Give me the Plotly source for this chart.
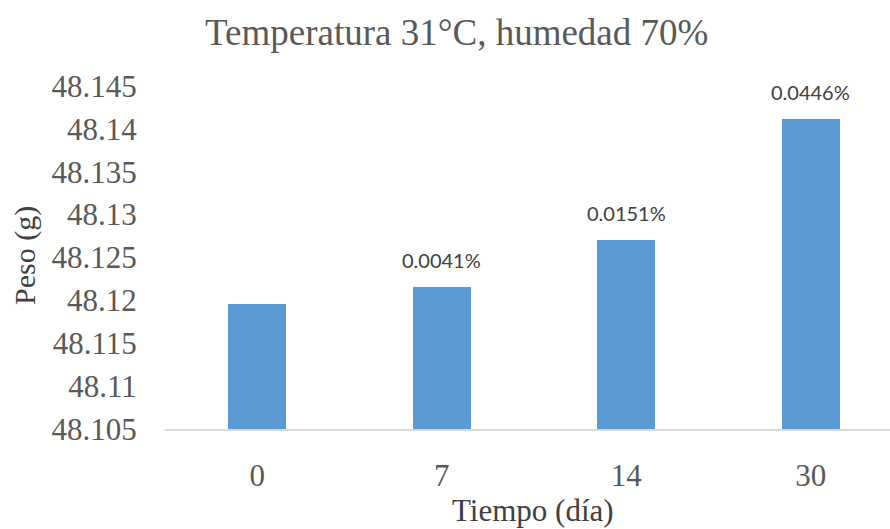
import plotly.graph_objects as go

# Peso de la muestra a lo largo del tiempo (31 °C, 70 % HR)
dias = ["0", "7", "14", "30"]
peso_g = [48.1196, 48.1216, 48.1270, 48.1411]
variacion = ["", "0.0041%", "0.0151%", "0.0446%"]
y_ticks = [48.105, 48.11, 48.115, 48.12, 48.125, 48.13, 48.135, 48.14, 48.145]
y_tick_text = ["48.105", "48.11", "48.115", "48.12", "48.125", "48.13", "48.135", "48.14", "48.145"]

SERIF = "Liberation Serif"
GRIS = "#595959"

fig = go.Figure(
    go.Bar(
        x=dias,
        y=peso_g,
        marker=dict(color="#5B9BD5", line=dict(width=0)),
        width=0.315,
    )
)

# Etiquetas de variación sobre cada barra (posición por índice de categoría)
for i, (p, v) in enumerate(zip(peso_g, variacion)):
    if v:
        fig.add_annotation(
            x=i, y=p, xref="x", yref="y", text=v, showarrow=False,
            yanchor="bottom", yshift=13,
            font=dict(family="Lato", size=20, color="#404040"),
        )

W, H = 890, 529
L, R, T, B = 165, 0, 86, 100
pw = W - L - R
ph = H - T - B

# Título y rótulos de ejes
fig.add_annotation(
    text="Temperatura 31°C, humedad 70%", xref="paper", yref="paper",
    x=(456 - L) / pw, y=1 + (T - 32) / ph, showarrow=False,
    xanchor="center", yanchor="middle", font=dict(family=SERIF, size=37, color=GRIS),
)
fig.add_annotation(
    text="Tiempo (día)", xref="paper", yref="paper",
    x=(533 - L) / pw, y=-(510 - (H - B)) / ph, showarrow=False,
    xanchor="center", yanchor="middle", font=dict(family=SERIF, size=31, color="#404040"),
)
fig.add_annotation(
    text="Peso (g)", xref="paper", yref="paper",
    x=(25 - L) / pw, y=(H - B - 256) / ph, showarrow=False, textangle=-90,
    xanchor="center", yanchor="middle", font=dict(family=SERIF, size=30, color="#404040"),
)

fig.update_layout(
    width=W, height=H,
    margin=dict(l=L, r=R, t=T, b=B, pad=0),
    paper_bgcolor="white", plot_bgcolor="white",
    showlegend=False,
    bargap=0,
    xaxis=dict(
        type="category", range=[-0.5, 3.43],
        showline=True, linecolor="#D9D9D9", linewidth=1.5,
        showgrid=False, zeroline=False,
        ticks="outside", ticklen=18, tickcolor="rgba(0,0,0,0)",
        tickfont=dict(family=SERIF, size=31, color=GRIS),
    ),
    yaxis=dict(
        range=[48.105, 48.145],
        tickvals=y_ticks, ticktext=y_tick_text,
        showline=False, showgrid=False, zeroline=False,
        ticks="outside", ticklen=21, tickcolor="rgba(0,0,0,0)",
        tickfont=dict(family=SERIF, size=31, color=GRIS),
    ),
)

fig.write_html("out.html")
